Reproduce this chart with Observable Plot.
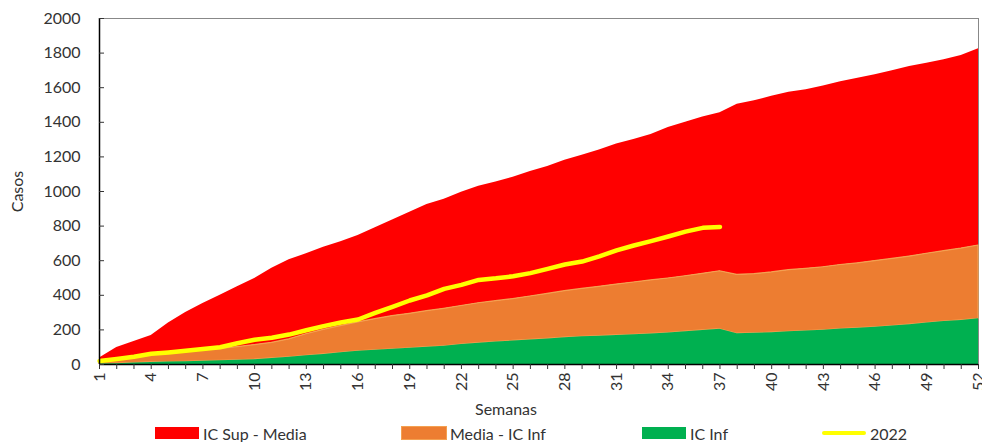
<!DOCTYPE html>
<html>
<head>
<meta charset="utf-8">
<script src="https://cdn.jsdelivr.net/npm/d3@7"></script>
<script src="https://cdn.jsdelivr.net/npm/@observablehq/plot@0.6"></script>
<style>
  body { margin: 0; background: #fff; font-family: Lato, "Open Sans", sans-serif; }
  #wrap { position: relative; width: 982px; height: 442px; }
  .leg { position: absolute; top: 424px; height: 18px; display: flex; align-items: center; font-size: 16px; color: #333; }
  .sw { width: 44px; height: 12px; margin-right: 4px; }
  .ln { width: 44px; height: 4px; margin-right: 4px; background: #FFFF00; border-radius: 2px; }
</style>
</head>
<body>
<div id="wrap"></div>
<script>
const weeks = d3.range(1, 53);
const icSup = [38,98,133,168,240,300,352,400,450,497,557,605,640,678,710,745,790,835,880,925,955,995,1030,1055,1083,1115,1145,1180,1210,1240,1275,1300,1330,1370,1400,1430,1455,1505,1525,1550,1574,1588,1610,1635,1655,1675,1698,1722,1742,1761,1786,1825];
const media = [20,30,40,55,62,72,82,90,100,112,125,145,175,200,222,243,262,280,293,308,322,338,354,366,378,393,408,424,437,449,462,474,486,497,510,524,539,518,522,532,545,553,562,575,585,598,610,624,640,655,670,688];
const icInf = [3,5,8,12,14,16,19,21,24,28,35,42,50,58,68,76,82,88,94,100,105,115,123,130,136,142,148,155,160,164,168,172,177,182,190,197,204,178,180,184,189,193,198,205,210,215,222,230,240,248,255,264];
const y2022 = [20,32,45,62,70,80,90,100,123,143,155,173,198,222,243,260,298,333,370,400,437,460,489,498,510,528,553,578,595,625,660,688,713,740,768,790,795];
const yTicks = [0,200,400,600,800,1000,1200,1400,1600,1800,2000];
const xLabelWeeks = d3.range(1, 53, 3);

const bands = weeks.map((w, i) => ({week: w, sup: icSup[i], media: media[i], inf: icInf[i]}));
const line2022 = y2022.map((v, i) => ({week: weeks[i], value: v}));

const chart = Plot.plot({
  width: 982,
  height: 422,
  marginTop: 18,
  marginBottom: 58,
  marginLeft: 99,
  marginRight: 4,
  style: {fontFamily: "Lato, 'Open Sans', sans-serif", fontSize: "16px", color: "#333", background: "#fff"},
  x: {domain: [1, 52]},
  y: {domain: [0, 2000]},
  marks: [
    Plot.frame({stroke: "#888"}),
    Plot.areaY(bands, {x: "week", y1: "media", y2: "sup", fill: "#FF0000"}),
    Plot.areaY(bands, {x: "week", y1: "inf", y2: "media", fill: "#ED7D31", stroke: "#F4A050", strokeWidth: 1.2}),
    Plot.areaY(bands, {x: "week", y1: 0, y2: "inf", fill: "#00B050"}),
    Plot.lineY(line2022, {x: "week", y: "value", stroke: "#FFFF00", strokeWidth: 4.5, strokeLinecap: "round", strokeLinejoin: "round"}),
    Plot.ruleY([0], {stroke: "#000", strokeWidth: 1.5}),
    Plot.ruleX([1], {stroke: "#000", strokeWidth: 1.5}),
    Plot.axisY({ticks: yTicks, tickSize: -5, tickPadding: 24, tickFormat: d => String(d), label: "Casos", labelAnchor: "center", labelArrow: "none", labelOffset: 88, fill: "#333"}),
    Plot.axisX({ticks: weeks, tickSize: 5, tickFormat: d => "", label: null}),
    Plot.axisX({ticks: xLabelWeeks, tickSize: 0, tickPadding: 8, tickRotate: -90, tickFormat: d => String(d), label: null, fill: "#333"}),
    Plot.text(["Semanas"], {frameAnchor: "bottom", dy: 50, dx: -33, text: d => d, fill: "#333", fontSize: 16})
  ]
});
const wrap = document.getElementById("wrap");
wrap.appendChild(chart);

const legendItems = [
  {label: "IC Sup - Media", color: "#FF0000", left: 155, kind: "area"},
  {label: "Media - IC Inf", color: "#ED7D31", left: 402, kind: "area"},
  {label: "IC Inf", color: "#00B050", left: 642, kind: "area"},
  {label: "2022", color: "#FFFF00", left: 822, kind: "line"}
];
for (const it of legendItems) {
  const d = document.createElement("div");
  d.className = "leg";
  d.style.left = it.left + "px";
  const s = document.createElement("div");
  s.className = it.kind === "line" ? "ln" : "sw";
  s.style.background = it.color;
  if (it.label === "Media - IC Inf") s.style.outline = "1px solid #F4A050";
  d.appendChild(s);
  const t = document.createElement("span");
  t.textContent = it.label;
  d.appendChild(t);
  wrap.appendChild(d);
}
</script>
</body>
</html>
